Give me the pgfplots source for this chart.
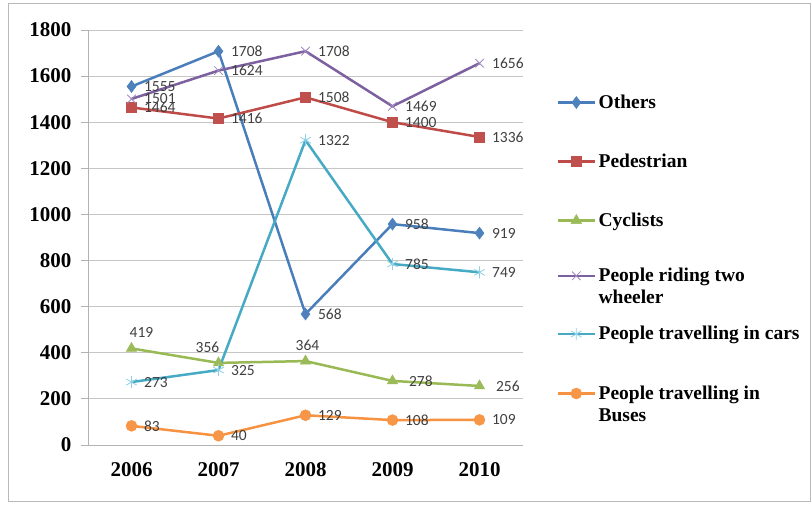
\documentclass[border=0pt]{standalone}
\usepackage{pgfplots}
\pgfplotsset{compat=1.18}
\usepackage{pgfplotstable}
\usepackage{fontspec}
\setmainfont{Liberation Serif}
\newfontfamily\lblfont{Carlito}
\usetikzlibrary{plotmarks}
\definecolor{cblue}{HTML}{4A7EBB}
\definecolor{cbluem}{HTML}{4F81BD}
\definecolor{cred}{HTML}{BE4B48}
\definecolor{credm}{HTML}{C0504D}
\definecolor{cgreen}{HTML}{98B954}
\definecolor{cgreenm}{HTML}{9BBB59}
\definecolor{cpurple}{HTML}{7D60A0}
\definecolor{cpurplem}{HTML}{9F8AC0}
\definecolor{ccyan}{HTML}{46AAC5}
\definecolor{ccyanm}{HTML}{8FD0E4}
\definecolor{corange}{HTML}{F69240}
\definecolor{corangem}{HTML}{F79646}
\definecolor{lbl}{HTML}{404040}

\pgfplotstableread{
x y
0 1555
1 1708
2 568
3 958
4 919
}\others
\pgfplotstableread{
x y
0 1464
1 1416
2 1508
3 1400
4 1336
}\pedestrian
\pgfplotstableread{
x y
0 419
1 356
2 364
3 278
4 256
}\cyclists
\pgfplotstableread{
x y
0 1501
1 1624
2 1708
3 1469
4 1656
}\twowheeler
\pgfplotstableread{
x y
0 273
1 325
2 1322
3 785
4 749
}\cars
\pgfplotstableread{
x y
0 83
1 40
2 129
3 108
4 109
}\buses

\newcommand{\legtxt}[1]{\smash{\raisebox{-6.5pt}{\begin{tabular}[t]{@{}l@{}}#1\end{tabular}}}}

\begin{document}
\begin{tikzpicture}[x=1pt,y=1pt]
\path[use as bounding box] (0,0) rectangle (812,504);
\draw[gray!55, line width=0.8pt] (8,3) rectangle (810,501);
\begin{axis}[
  at={(88pt,59pt)}, anchor=south west,
  width=435pt, height=415pt, scale only axis,
  xmin=-0.5, xmax=4.5, ymin=0, ymax=1800,
  axis x line*=bottom, axis y line*=left,
  axis line style={gray!60, line width=0.8pt, -},
  xtick={0,1,2,3,4},
  xticklabels={2006,2007,2008,2009,2010},
  minor xtick={-0.5,0.5,1.5,2.5,3.5,4.5},
  ytick={0,200,...,1800},
  tick align=outside,
  major tick length=7pt,
  minor tick length=6pt,
  xtick style={draw=none},
  minor x tick style={gray!60, line width=0.8pt},
  ytick style={gray!60, line width=0.8pt},
  ymajorgrids, grid style={gray!45, line width=0.8pt},
  tick label style={font=\bfseries\fontsize{21}{21}\selectfont, text=black},
  /pgf/number format/assume math mode=true,
  /pgf/number format/1000 sep={},
  yticklabel style={xshift=-6pt},
  xticklabel style={yshift=-7pt},
  every axis plot/.append style={line width=2.5pt},
  lbls/.style={nodes near coords, every node near coord/.append style={font=\lblfont\fontsize{15.5}{16}\selectfont, text=lbl, anchor=west, xshift=9pt}},
  legend style={at={(axis description cs:1.071,0.845)}, anchor=north west,
    draw=none, fill=none, row sep=48pt,
    font=\bfseries\fontsize{19.5}{22}\selectfont,
    cells={anchor=west}},
  legend cell align=left,
  legend image code/.code={\draw[mark repeat=2,mark phase=2] plot coordinates {(0pt,0pt) (18pt,0pt) (37pt,0pt)};},
]
\addplot[lbls, cblue, mark=diamond*, mark size=6pt, mark options={fill=cbluem, draw=cbluem, line width=0.5pt}] table[x=x,y=y] {\others};
\addlegendentry{\legtxt{Others}}
\addplot[lbls, cred, mark=square*, mark size=5pt, mark options={fill=credm, draw=credm, line width=0.5pt}] table[x=x,y=y] {\pedestrian};
\addlegendentry{\legtxt{Pedestrian}}
\addplot[cgreen, mark=triangle*, mark size=6pt, mark options={fill=cgreenm, draw=cgreenm, line width=0.5pt}] table[x=x,y=y] {\cyclists};
\addlegendentry{\legtxt{Cyclists}}
\addplot[lbls, cpurple, mark=x, mark size=6pt, mark options={draw=cpurplem, line width=0.8pt}] table[x=x,y=y] {\twowheeler};
\addlegendentry{\legtxt{People riding two\\wheeler}}
\addplot[lbls, ccyan, mark=asterisk, mark size=6pt, mark options={draw=ccyanm, line width=0.8pt}] table[x=x,y=y] {\cars};
\addlegendentry{\legtxt{People travelling in\ cars}}
\addplot[lbls, corange, mark=*, mark size=5.5pt, mark options={fill=corangem, draw=corangem, line width=0.5pt}] table[x=x,y=y] {\buses};
\addlegendentry{\legtxt{People travelling in\\Buses}}
% cyclist labels
\addplot[forget plot, draw=none, mark=none, lbls, every node near coord/.append style={anchor=south, xshift=1pt, yshift=6pt}] coordinates {(0,419)};
\addplot[forget plot, draw=none, mark=none, lbls, every node near coord/.append style={anchor=south, xshift=-20pt, yshift=6pt}] coordinates {(1,356)};
\addplot[forget plot, draw=none, mark=none, lbls, every node near coord/.append style={anchor=south, xshift=-7pt, yshift=6pt}] coordinates {(2,364)};
\addplot[forget plot, draw=none, mark=none, lbls, every node near coord/.append style={xshift=3pt}] coordinates {(3,278) (4,256)};
\end{axis}
\end{tikzpicture}
\end{document}
